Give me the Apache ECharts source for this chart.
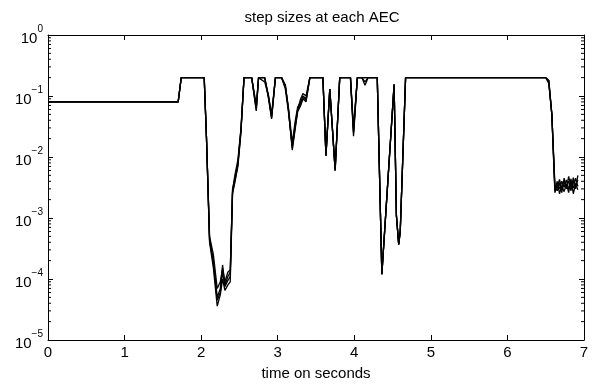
<!DOCTYPE html>
<html>
<head>
<meta charset="utf-8">
<script src="https://cdn.jsdelivr.net/npm/echarts@6/dist/echarts.min.js"></script>
<style>html,body{margin:0;padding:0;background:#fff}#c{width:595px;height:386px}</style>
</head>
<body>
<div id="c"></div>
<script>
// time stamps (seconds)
const time = [0, 1.70, 1.74, 2.04, 2.07, 2.11, 2.16, 2.21, 2.25, 2.28, 2.31, 2.35, 2.38, 2.41, 2.44, 2.48, 2.52, 2.56,
  2.66, 2.72, 2.75, 2.83, 2.88, 2.92, 2.97, 3.05, 3.10, 3.14, 3.19, 3.23, 3.26, 3.30, 3.33, 3.37, 3.42,
  3.59, 3.63, 3.68, 3.75, 3.81, 3.95, 3.99, 4.04, 4.10, 4.14, 4.18, 4.30, 4.36, 4.52, 4.55, 4.58, 4.60, 4.67,
  6.50, 6.54, 6.58, 6.62, 6.65, 6.68, 6.71, 6.74, 6.77, 6.80, 6.83, 6.86, 6.89, 6.92];
// step sizes of each AEC
const aec1 = [0.08, 0.08, 0.2, 0.2, 0.02, 4e-4, 1.5e-4, 3.6e-5, 5.5e-5, 1.0e-4, 6.5e-5, 8e-5, 9e-5, 2.5e-3, 3.8e-3, 7e-3, 0.025, 0.2,
  0.2, 0.057, 0.2, 0.2, 0.09, 0.042, 0.2, 0.2, 0.15, 0.06, 0.013, 0.03, 0.055, 0.07, 0.09, 0.08, 0.2,
  0.2, 0.0105, 0.13, 0.006, 0.2, 0.2, 0.026, 0.2, 0.2, 0.2, 0.2, 0.2, 1.2e-4, 0.154, 1.1e-3, 3.7e-4, 6e-4, 0.2,
  0.2, 0.18, 0.05, 2.6e-3, 3.5e-3, 3.0e-3, 4.0e-3, 3.2e-3, 4.2e-3, 3.0e-3, 3.8e-3, 3.1e-3, 4.5e-3, 3.3e-3];
const aec2 = [0.08, 0.08, 0.2, 0.2, 0.02, 4.5e-4, 2e-4, 5e-5, 7e-5, 1.7e-4, 8e-5, 1.1e-4, 1.3e-4, 3e-3, 4.4e-3, 8e-3, 0.03, 0.2,
  0.2, 0.07, 0.2, 0.2, 0.1, 0.05, 0.2, 0.2, 0.13, 0.055, 0.015, 0.035, 0.06, 0.09, 0.11, 0.1, 0.2,
  0.2, 0.011, 0.13, 0.0065, 0.2, 0.2, 0.022, 0.2, 0.2, 0.15, 0.2, 0.2, 1.2e-4, 0.154, 1.1e-3, 3.7e-4, 6e-4, 0.2,
  0.2, 0.17, 0.05, 3.2e-3, 2.8e-3, 3.8e-3, 2.6e-3, 4.5e-3, 3.0e-3, 4.8e-3, 3.2e-3, 4.0e-3, 3.0e-3, 5e-3];
const aec3 = [0.08, 0.08, 0.2, 0.2, 0.02, 5e-4, 2.5e-4, 7e-5, 9e-5, 1.5e-4, 9e-5, 1.3e-4, 1.4e-4, 2.8e-3, 5e-3, 9e-3, 0.028, 0.2,
  0.2, 0.065, 0.2, 0.17, 0.1, 0.046, 0.2, 0.2, 0.14, 0.065, 0.017, 0.04, 0.065, 0.08, 0.1, 0.09, 0.2,
  0.2, 0.0105, 0.13, 0.006, 0.2, 0.2, 0.03, 0.2, 0.2, 0.17, 0.2, 0.2, 1.2e-4, 0.154, 1.1e-3, 3.7e-4, 6e-4, 0.2,
  0.2, 0.16, 0.05, 2.8e-3, 4.0e-3, 2.5e-3, 3.4e-3, 2.7e-3, 3.6e-3, 2.6e-3, 4.4e-3, 2.5e-3, 3.6e-3, 2.9e-3];
const aec4 = [0.08, 0.08, 0.2, 0.2, 0.02, 4.2e-4, 1.8e-4, 4.5e-5, 6e-5, 1.3e-4, 7.5e-5, 9.5e-5, 1.1e-4, 2.6e-3, 4.1e-3, 7.5e-3, 0.027, 0.2,
  0.2, 0.06, 0.2, 0.2, 0.095, 0.044, 0.2, 0.2, 0.15, 0.06, 0.014, 0.032, 0.058, 0.075, 0.095, 0.085, 0.2,
  0.2, 0.0105, 0.13, 0.006, 0.2, 0.2, 0.025, 0.2, 0.2, 0.2, 0.2, 0.2, 1.2e-4, 0.154, 1.1e-3, 3.7e-4, 6e-4, 0.2,
  0.2, 0.18, 0.05, 3.5e-3, 3.1e-3, 4.3e-3, 3.0e-3, 3.9e-3, 3.4e-3, 4.0e-3, 2.8e-3, 4.6e-3, 3.4e-3, 4.2e-3];
const seriesValues = [aec1, aec2, aec3, aec4];
// x tick labels
const xTicks = [0, 1, 2, 3, 4, 5, 6, 7];
const yDecades = [-5, -4, -3, -2, -1, 0];

const FONT = 'Liberation Sans, Arial, sans-serif';
const minorVals = [];
for (let e = -5; e < 0; e++) for (let m = 2; m <= 9; m++) minorVals.push(m * Math.pow(10, e));

const chart = echarts.init(document.getElementById('c'), null, {renderer: 'canvas'});
const lineSeries = seriesValues.map((vals, k) => ({
  type: 'line', xAxisIndex: 0, yAxisIndex: 0,
  data: vals.map((v, i) => [time[i], v]),
  showSymbol: false, symbol: 'none', animation: false,
  lineStyle: {color: '#000', width: 1.3}, z: 5
}));
const minorSeries = {
  type: 'custom', xAxisIndex: 0, yAxisIndex: 0, animation: false, silent: true, clip: false,
  data: minorVals.map(v => [v]),
  renderItem: function (params, api) {
    const v = api.value(0);
    const l = api.coord([0, v]);
    const r = api.coord([7, v]);
    return {type: 'group', children: [
      {type: 'line', shape: {x1: l[0], y1: l[1], x2: l[0] + 3, y2: l[1]}, style: {stroke: '#000', lineWidth: 1}},
      {type: 'line', shape: {x1: r[0], y1: r[1], x2: r[0] - 3, y2: r[1]}, style: {stroke: '#000', lineWidth: 1}}
    ]};
  }
};
const axisCommon = {
  axisLine: {show: true, onZero: false, lineStyle: {color: '#000', width: 1}},
  axisTick: {show: true, inside: true, length: 5, lineStyle: {color: '#000'}},
  splitLine: {show: false}
};
chart.setOption({
  backgroundColor: '#fff',
  animation: false,
  title: {text: 'step sizes at each AEC', left: 317, top: 5, textAlign: 'center',
    textStyle: {fontFamily: FONT, fontSize: 15, fontWeight: 'normal', color: '#000'}},
  grid: {left: 48, right: 11, top: 35, bottom: 43},
  xAxis: [
    Object.assign({type: 'value', min: 0, max: 7, interval: 1, position: 'bottom',
      name: 'time on seconds', nameLocation: 'middle', nameGap: 26,
      nameTextStyle: {fontFamily: FONT, fontSize: 15, color: '#000'},
      axisLabel: {fontFamily: FONT, fontSize: 15, color: '#000', margin: 5,
        formatter: v => xTicks.includes(v) ? String(v) : ''}}, axisCommon),
    Object.assign({type: 'value', min: 0, max: 7, interval: 1, position: 'top',
      axisLabel: {show: false}}, axisCommon)
  ],
  yAxis: [
    Object.assign({type: 'log', logBase: 10, min: 1e-5, max: 1, position: 'left',
      axisLabel: {margin: 5, color: '#000',
        formatter: function (v) {
          const e = Math.round(Math.log10(v));
          if (!yDecades.includes(e)) return '';
          return '{b|10}{s|' + (e < 0 ? '\u2212' + (-e) : String(e)) + '}';
        },
        rich: {
          b: {fontFamily: FONT, fontSize: 15, color: '#000', verticalAlign: 'bottom', lineHeight: 22},
          s: {fontFamily: FONT, fontSize: 10, color: '#000', verticalAlign: 'top', lineHeight: 22}
        }}}, axisCommon),
    Object.assign({type: 'log', logBase: 10, min: 1e-5, max: 1, position: 'right',
      axisLabel: {show: false}}, axisCommon)
  ],
  series: lineSeries.concat([minorSeries])
});
</script>
</body>
</html>
